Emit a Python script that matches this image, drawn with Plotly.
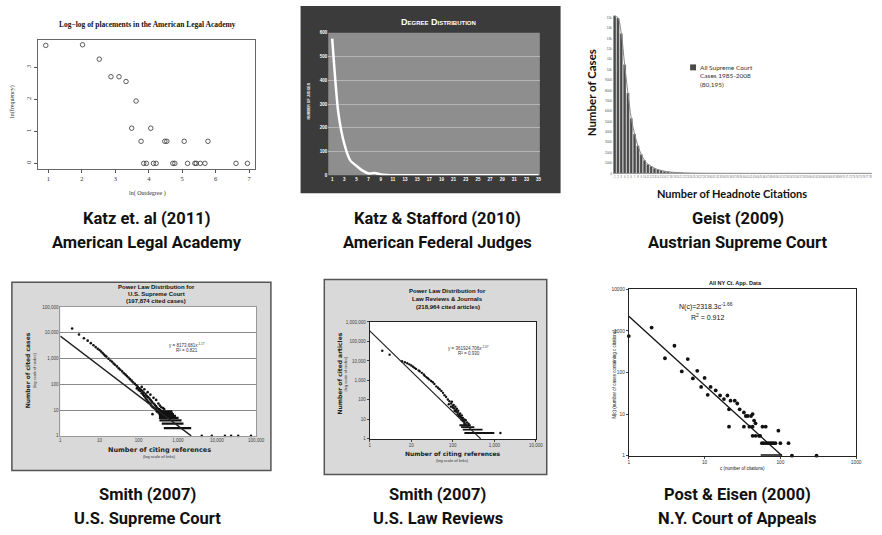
import plotly.graph_objects as go

W, H = 882, 535
def X(p): return p / W
def Y(p): return 1 - p / H

# ---------------- data ----------------
# Panel 1 : Katz et al. (2011)
p1_ln_outdegree = [0.92, 2.02, 2.52, 2.87, 3.11, 3.32, 3.62, 3.49, 4.06, 3.77, 4.48, 4.54, 5.06, 5.77,
                   3.85, 3.93, 4.14, 4.22, 4.72, 4.78, 5.16, 5.38, 5.42, 5.54, 5.68, 6.61, 6.95]
p1_ln_frequency = [3.69, 3.71, 3.26, 2.71, 2.71, 2.56, 1.95, 1.10, 1.10, 0.69, 0.69, 0.69, 0.69, 0.69,
                   0, 0, 0, 0, 0, 0, 0, 0, 0, 0, 0, 0, 0]
p1_xticks = [1, 2, 3, 4, 5, 6, 7]
p1_yticks = [0, 1, 2, 3]

# Panel 2 : Katz & Stafford (2010)
p2_degree = [1, 2, 3, 4, 5, 6, 7, 8, 9, 10, 11, 12, 13, 14, 15, 16, 17, 18, 19, 20,
             21, 22, 23, 24, 25, 26, 27, 28, 29, 30, 31, 32, 33, 34, 35]
p2_judges = [575, 265, 132, 62, 40, 20, 8, 10, 4, 2, 1, 1, 0, 0, 0, 0, 0, 0, 0, 0,
             0, 0, 0, 0, 0, 0, 0, 0, 0, 0, 0, 0, 0, 0, 0]
p2_xticks = [1, 3, 5, 7, 9, 11, 13, 15, 17, 19, 21, 23, 25, 27, 29, 31, 33, 35]
p2_yticks = [0, 100, 200, 300, 400, 500, 600]

# Panel 3 : Geist (2009)
p3_citations = list(range(1, 79))
p3_cases = [15200, 15000, 13500, 10500, 7750, 5330, 3810, 2670, 1840, 1270,
            890, 680, 500, 370, 280, 210, 160, 120, 95, 75,
            60, 48, 38, 30, 25, 20, 17, 14, 12, 10,
            9, 8, 7, 6, 5, 5, 4, 4, 3, 3,
            3, 2, 2, 2, 2, 2, 1, 1, 1, 1,
            1, 1, 1, 1, 1, 1, 1, 1, 1, 1,
            1, 1, 1, 1, 1, 1, 1, 1, 1, 1,
            1, 1, 1, 1, 1, 1, 1, 1]
p3_yticks = [0, 1000, 2000, 3000, 4000, 5000, 6000, 7000, 8000, 9000, 10000,
             11000, 12000, 13000, 14000, 15000]
p3_series = "All Supreme Court<br>Cases 1985-2008<br>(80,195)"

# Panel 4 : Smith (2007) U.S. Supreme Court
p4_refs = [2, 3, 4, 5, 6, 7, 8, 9, 10, 11, 12, 13, 14, 15, 17, 19, 21, 23, 25, 28, 31, 34, 38, 42,
           46, 50, 55, 60, 66, 72, 80, 88, 95, 105, 115, 125, 135, 150, 160, 175, 190, 205, 220,
           240, 260, 280, 300, 330, 360, 400,
           90, 100, 110, 120, 130, 140, 150, 160, 170, 180, 200, 210, 230, 250, 270, 290, 226,
           120, 140, 170, 200, 240, 280, 320, 350, 380, 420, 450,
           4100, 7400, 16000, 23000, 35000, 74000]
p4_cases = [14700, 8700, 6200, 5000, 4000, 3300, 2800, 2400, 2150, 1900, 1650, 1450, 1300, 1200,
            1000, 850, 760, 650, 580, 500, 420, 370, 320, 270, 240, 210, 185, 160, 140, 120, 105,
            92, 80, 70, 62, 55, 48, 42, 36, 32, 28, 24, 21, 18, 16, 14, 12, 11, 10, 9,
            70, 60, 55, 45, 40, 35, 30, 26, 22, 20, 18, 15, 13, 12, 11, 9, 7,
            80, 65, 50, 40, 30, 25, 18, 15, 13, 12, 11,
            1, 1, 1, 1, 1, 1]
p4_band_level = [9, 8, 7, 6, 5, 4, 3, 2]
p4_band_from = [280, 300, 320, 330, 330, 340, 390, 440]
p4_band_to = [720, 750, 800, 900, 1050, 1250, 1400, 2200]
p4_fit_x = [1, 2200]
p4_fit_y = [7500, 1]
p4_ticks = [1, 10, 100, 1000, 10000, 100000]
p4_ticktext = ["1", "10", "100", "1,000", "10,000", "100,000"]

# Panel 5 : Smith (2007) U.S. Law Reviews
p5_refs = [2, 3, 6, 7, 8, 9, 10, 11, 12, 13, 15, 16, 18, 20, 21, 23, 25, 27, 30, 33, 36, 40, 44,
           48, 53, 58, 63, 69, 76, 83, 91, 100, 109, 120, 131, 145, 158, 170, 189,
           80, 90, 100, 110, 120, 130, 140, 150, 160, 170, 180, 190, 200, 210,
           95, 105, 115, 125, 135, 150, 165, 175, 190, 205, 220, 240, 1400]
p5_articles = [33500, 21000, 9600, 8500, 7600, 6700, 5800, 5000, 4400, 3900, 3300, 2900, 2450,
               2000, 1750, 1480, 1300, 1100, 930, 800, 650, 495, 420, 350, 290, 230, 173, 140,
               105, 85, 65, 50, 36, 30, 22, 17, 12.6, 10, 7.6,
               60, 45, 40, 28, 25, 18, 15, 14, 10, 9, 8, 6, 6, 5,
               80, 55, 45, 35, 28, 20, 16, 12, 10, 9, 7, 6, 2]
p5_band_level = [5, 4, 3, 2]
p5_band_from = [144, 158, 173, 190]
p5_band_to = [270, 330, 520, 1000]
p5_fit_x = [1, 470]
p5_fit_y = [350000, 1]
p5_xticks = [1, 10, 100, 1000, 10000]
p5_xticktext = ["1", "10", "100", "1,000", "10,000"]
p5_yticks = [1, 10, 100, 1000, 10000, 100000, 1000000]
p5_yticktext = ["1", "10", "100", "1,000", "10,000", "100,000", "1,000,000"]

# Panel 6 : Post & Eisen (2000)
p6_c = [1, 2, 3, 4, 5, 6, 7, 8, 9, 10, 11, 12, 14, 16, 18, 20, 22, 25, 27, 21, 29, 33, 35, 37,
        41, 43, 45, 47, 21, 33, 39, 43, 58, 64, 43, 47, 52, 54, 94, 57, 60, 65, 69, 73, 77, 81,
        86, 100, 128, 142, 300]
p6_n = [750, 1200, 220, 440, 106, 210, 72, 110, 45, 74, 29, 45, 37, 28, 23, 28, 21, 21, 18, 13,
        13, 11, 9, 9, 9, 10, 7, 6, 5, 5, 5, 5, 5, 5, 3, 3, 3, 3, 4, 2, 2, 2, 2, 2, 2, 2,
        2, 2, 2, 1, 1]
p6_band_level = [1]
p6_band_from = [55]
p6_band_to = [105]
p6_fit_x = [1, 105]
p6_fit_y = [2240, 1]
p6_xticks = [1, 10, 100, 1000]
p6_xticktext = ["1", "10", "100", "1000"]
p6_yticks = [1, 10, 100, 1000, 10000]
p6_yticktext = ["1", "10", "100", "1000", "10000"]


def bands(levels, starts, ends):
    xs, ys = [], []
    for lv, a, b in zip(levels, starts, ends):
        xs += [a, b, None]
        ys += [lv, lv, None]
    return xs, ys


fig = go.Figure()

# ---------- traces ----------
fig.add_trace(go.Scatter(x=p1_ln_outdegree, y=p1_ln_frequency, mode="markers",
                         marker=dict(symbol="circle-open", size=4.5, color="#333",
                                     line=dict(width=0.8, color="#333")),
                         xaxis="x", yaxis="y", showlegend=False))

fig.add_trace(go.Scatter(x=p2_degree, y=p2_judges, mode="lines",
                         line=dict(color="white", width=2.5, shape="spline", smoothing=0.6),
                         xaxis="x2", yaxis="y2", showlegend=False, cliponaxis=False))

fig.add_trace(go.Bar(x=p3_citations, y=p3_cases, name=p3_series,
                     marker=dict(color="#4a4a4a", line=dict(color="#e0e0e0", width=0.4)),
                     width=0.85, xaxis="x3", yaxis="y3", showlegend=False))
fig.add_trace(go.Scatter(x=p3_citations, y=p3_cases, mode="lines",
                         line=dict(color="#888", width=1, shape="spline"),
                         xaxis="x3", yaxis="y3", showlegend=False))

bx, by = bands(p4_band_level, p4_band_from, p4_band_to)
fig.add_trace(go.Scatter(x=bx, y=by, mode="lines", line=dict(color="#111", width=2.2),
                         xaxis="x4", yaxis="y4", showlegend=False))
fig.add_trace(go.Scatter(x=p4_refs, y=p4_cases, mode="markers",
                         marker=dict(size=2.6, color="#111"), cliponaxis=False,
                         xaxis="x4", yaxis="y4", showlegend=False))
fig.add_trace(go.Scatter(x=p4_fit_x, y=p4_fit_y, mode="lines", line=dict(color="#222", width=1.4),
                         xaxis="x4", yaxis="y4", showlegend=False))

bx, by = bands(p5_band_level, p5_band_from, p5_band_to)
fig.add_trace(go.Scatter(x=bx, y=by, mode="lines", line=dict(color="#111", width=1.8),
                         xaxis="x5", yaxis="y5", showlegend=False))
fig.add_trace(go.Scatter(x=p5_refs, y=p5_articles, mode="markers",
                         marker=dict(size=2.4, color="#111"), cliponaxis=False,
                         xaxis="x5", yaxis="y5", showlegend=False))
fig.add_trace(go.Scatter(x=p5_fit_x, y=p5_fit_y, mode="lines", line=dict(color="#222", width=1.2),
                         xaxis="x5", yaxis="y5", showlegend=False))

bx, by = bands(p6_band_level, p6_band_from, p6_band_to)
fig.add_trace(go.Scatter(x=bx, y=by, mode="lines", line=dict(color="#111", width=3),
                         xaxis="x6", yaxis="y6", showlegend=False, cliponaxis=False))
fig.add_trace(go.Scatter(x=p6_c, y=p6_n, mode="markers",
                         marker=dict(size=3.8, color="#111"), cliponaxis=False,
                         xaxis="x6", yaxis="y6", showlegend=False))
fig.add_trace(go.Scatter(x=p6_fit_x, y=p6_fit_y, mode="lines", line=dict(color="#111", width=1.3),
                         xaxis="x6", yaxis="y6", showlegend=False))

# ---------- axes ----------
serif = "Liberation Serif, DejaVu Serif, serif"
sans = "Liberation Sans, Arial, sans-serif"

common = dict(showgrid=False, zeroline=False)

layout = dict(
    # panel 1
    xaxis=dict(domain=[X(37), X(257)], range=[0.675, 7.18], anchor="y", tickvals=p1_xticks,
               ticks="outside", ticklen=3, tickcolor="#555", showline=True, linecolor="#666",
               mirror=True, tickfont=dict(family=serif, size=6.5, color="#333"), **common),
    yaxis=dict(domain=[Y(169), Y(38)], range=[-0.19, 3.87], anchor="x", tickvals=p1_yticks,
               ticks="outside", ticklen=3, tickcolor="#555", showline=True, linecolor="#666",
               mirror=True, tickangle=-90, tickfont=dict(family=serif, size=6.5, color="#333"),
               **common),
    # panel 2
    xaxis2=dict(domain=[X(331), X(545)], range=[0.35, 35.2], anchor="y2", tickvals=p2_xticks,
                ticks="", tickfont=dict(family=sans, size=4.5, color="white", weight="bold"),
                showline=False, **common),
    yaxis2=dict(domain=[Y(175), Y(31)], range=[0, 600], anchor="x2", tickvals=p2_yticks,
                ticks="", tickfont=dict(family=sans, size=4.5, color="white", weight="bold"),
                showgrid=True, gridcolor="#b4b4b4", gridwidth=1.2, zeroline=False),
    # panel 3
    xaxis3=dict(domain=[X(619), X(881)], range=[0.5, 78.5], anchor="y3", dtick=1, tick0=1,
                tickangle=0, ticks="", showline=True, linecolor="#999",
                tickfont=dict(family=sans, size=2.6, color="#666"), **common),
    yaxis3=dict(domain=[Y(173), Y(13)], range=[0, 15290], anchor="x3", tickvals=p3_yticks,
                ticks="", showline=False, tickfont=dict(family=sans, size=3.2, color="#555"),
                **common),
    # panel 4
    xaxis4=dict(domain=[X(60), X(258)], type="log", range=[0, 5], anchor="y4", tickvals=p4_ticks,
                ticktext=p4_ticktext, ticks="", showline=True, linecolor="#999", mirror=True,
                tickfont=dict(family=sans, size=4.5, color="#444"), **common),
    yaxis4=dict(domain=[Y(438), Y(308)], type="log", range=[0, 5], anchor="x4", tickvals=p4_ticks,
                ticktext=p4_ticktext, ticks="", showline=True, linecolor="#999", mirror=True,
                showgrid=True, gridcolor="#8a8a8a", gridwidth=1, zeroline=False,
                tickfont=dict(family=sans, size=4.5, color="#444")),
    # panel 5
    xaxis5=dict(domain=[X(373), X(541)], type="log", range=[0, 4], anchor="y5", tickvals=p5_xticks,
                ticktext=p5_xticktext, ticks="outside", ticklen=2, showline=True, linecolor="#222",
                mirror=True, tickfont=dict(family=sans, size=4.5, color="#444"), **common),
    yaxis5=dict(domain=[Y(441), Y(323)], type="log", range=[0, 6], anchor="x5", tickvals=p5_yticks,
                ticktext=p5_yticktext, ticks="outside", ticklen=2, showline=True, linecolor="#222",
                mirror=True, tickfont=dict(family=sans, size=4.5, color="#444"), **common),
    # panel 6
    xaxis6=dict(domain=[X(635), X(865)], type="log", range=[0, 3], anchor="y6", tickvals=p6_xticks,
                ticktext=p6_xticktext, ticks="outside", ticklen=2, showline=True, linecolor="#222",
                mirror=True, tickfont=dict(family=sans, size=4.8, color="#333"), **common),
    yaxis6=dict(domain=[Y(458), Y(290)], type="log", range=[0, 4], anchor="x6", tickvals=p6_yticks,
                ticktext=p6_yticktext, ticks="outside", ticklen=2, showline=True, linecolor="#222",
                mirror=True, tickfont=dict(family=sans, size=4.8, color="#333"), **common),
)

# ---------- frames / backgrounds ----------
shapes = [
    dict(type="rect", xref="paper", yref="paper", x0=X(303), x1=X(566), y0=Y(193), y1=Y(4),
         fillcolor="#3b3b3b", line=dict(width=0), layer="below"),
    dict(type="rect", xref="paper", yref="paper", x0=X(331), x1=X(545), y0=Y(175), y1=Y(31),
         fillcolor="#8e8e8e", line=dict(width=0), layer="below"),
    dict(type="rect", xref="paper", yref="paper", x0=X(11), x1=X(273), y0=Y(473), y1=Y(283),
         fillcolor="#d9d9d9", line=dict(color="#555", width=1.5), layer="below"),
    dict(type="rect", xref="paper", yref="paper", x0=X(60), x1=X(258), y0=Y(438), y1=Y(308),
         fillcolor="white", line=dict(width=0), layer="below"),
    dict(type="rect", xref="paper", yref="paper", x0=X(327), x1=X(552), y0=Y(477), y1=Y(280),
         fillcolor="#d9d9d9", line=dict(color="#555", width=1.5), layer="below"),
    dict(type="rect", xref="paper", yref="paper", x0=X(373), x1=X(541), y0=Y(441), y1=Y(323),
         fillcolor="white", line=dict(width=0), layer="below"),
    # legend swatch of the Geist chart
    dict(type="rect", xref="paper", yref="paper", x0=X(697), x1=X(703), y0=Y(69), y1=Y(63),
         fillcolor="#4a4a4a", line=dict(width=0)),
]


def ann(x, y, text, size, color="#111", family=sans, weight="normal", angle=0, xanchor="center",
        variant="normal", yanchor="middle"):
    return dict(x=X(x), y=Y(y), xref="paper", yref="paper", text=text, showarrow=False,
                xanchor=xanchor, yanchor=yanchor, textangle=angle, align="left",
                font=dict(size=size, color=color, family=family, weight=weight, variant=variant))


cap = "Roboto, Liberation Sans, sans-serif"
cs = 16.5
annotations = [
    ann(148, 219, "Katz et. al (2011)", cs, family=cap, weight="bold"),
    ann(148, 243, "American Legal Academy", cs, family=cap, weight="bold"),
    ann(442, 219, "Katz & Stafford (2010)", cs, family=cap, weight="bold"),
    ann(442, 243, "American Federal Judges", cs, family=cap, weight="bold"),
    ann(745, 219, "Geist (2009)", cs, family=cap, weight="bold"),
    ann(745, 243, "Austrian Supreme Court", cs, family=cap, weight="bold"),
    ann(148, 497, "Smith (2007)", cs, family=cap, weight="bold"),
    ann(148, 521, "U.S. Supreme Court", cs, family=cap, weight="bold"),
    ann(442, 497, "Smith (2007)", cs, family=cap, weight="bold"),
    ann(442, 521, "U.S. Law Reviews", cs, family=cap, weight="bold"),
    ann(745, 497, "Post & Eisen (2000)", cs, family=cap, weight="bold"),
    ann(745, 521, "N.Y. Court of Appeals", cs, family=cap, weight="bold"),
    # panel 1
    ann(148, 23, "Log\u2212log of placements in the American Legal Academy", 7.5, family=serif, weight="bold"),
    ann(148, 193, "ln( Outdegree )", 6, family=serif, color="#333"),
    ann(11, 100, "ln(frequency)", 6, family=serif, color="#333", angle=-90),
    # panel 2
    ann(443, 20, "Degree Distribution", 9, color="white", weight="bold", variant="small-caps"),
    ann(312, 100, "NUMBER OF JUDGES", 3.5, color="white", weight="bold", angle=-90),
    # panel 3
    ann(597, 92, "Number of Cases", 11.5, family="Lato, Liberation Sans", weight="bold", angle=-90),
    ann(739, 193, "Number of Headnote Citations", 11, family="Lato, Liberation Sans", weight="bold"),
    ann(705, 75, p3_series, 6.5, family="Lato, Liberation Sans", color="#333", xanchor="left"),
    # panel 4
    ann(157, 288, "Power Law Distribution for", 6, weight="bold"),
    ann(157, 295, "U.S. Supreme Court", 6, weight="bold"),
    ann(157, 302, "(197,874 cited cases)", 6, weight="bold"),
    ann(27, 372, "Number of cited cases", 6, family="DejaVu Sans", weight="bold", angle=-90, color="#222"),
    ann(34, 372, "(log scale of nodes)", 4, angle=-90, color="#333"),
    ann(160, 452, "Number of citing references", 6.5, family="DejaVu Sans", weight="bold", color="#222"),
    ann(160, 459, "(log scale of links)", 4, color="#333"),
    ann(188, 346, "y = 8173.681x<sup>-1.17</sup>", 4.5, color="#333"),
    ann(188, 352, "R² = 0.821", 4.5, color="#333"),
    # panel 5
    ann(452, 292, "Power Law Distribution for", 6, weight="bold"),
    ann(452, 300, "Law Reviews & Journals", 6, weight="bold"),
    ann(452, 308, "(218,964 cited articles)", 6, weight="bold"),
    ann(342, 375, "Number of cited articles", 6, family="DejaVu Sans", weight="bold", angle=-90, color="#222"),
    ann(348, 375, "(log scale of nodes)", 4, angle=-90, color="#333"),
    ann(457, 456, "Number of citing references", 6, family="DejaVu Sans", weight="bold", color="#222"),
    ann(457, 463, "(log scale of links)", 4, color="#333"),
    ann(473, 349, "y = 361924.706x<sup>-2.07</sup>", 4.5, color="#333"),
    ann(473, 355, "R² = 0.930", 4.5, color="#333"),
    # panel 6
    ann(743, 284, "All NY Ct. App. Data", 5.5, weight="bold"),
    ann(621, 375, "N(c) (number of cases containing c citations)", 4.5, angle=-90),
    ann(750, 471, "c (number of citations)", 4.5),
    ann(713, 307, "N(c)=2318.3c<sup>-1.66</sup>", 7),
    ann(715, 318, "R<sup>2</sup> = 0.912", 7),
]

fig.update_layout(
    width=W, height=H, margin=dict(l=0, r=0, t=0, b=0),
    paper_bgcolor="white", plot_bgcolor="rgba(0,0,0,0)",
    shapes=shapes, annotations=annotations, showlegend=False,
    bargap=0.1,
    **layout,
)

fig.write_html("out.html", config={"displayModeBar": False},
               post_script="document.body.style.margin='0';document.body.style.overflow='hidden';")
